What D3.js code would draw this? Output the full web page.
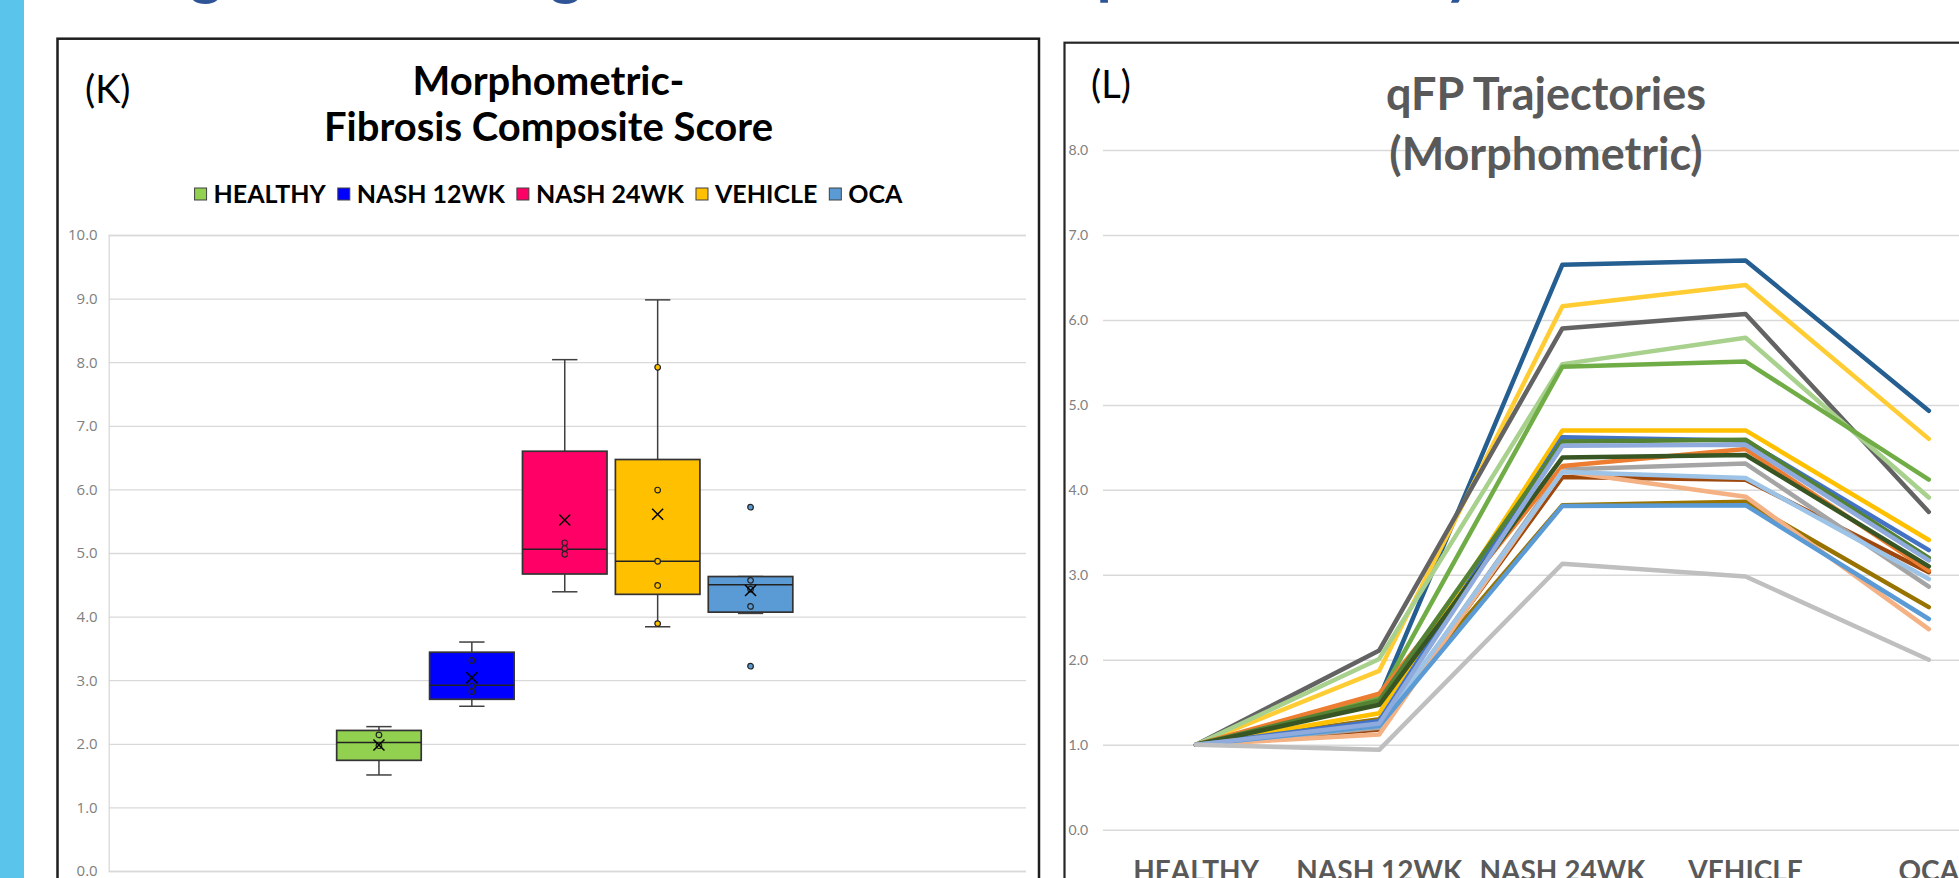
<!DOCTYPE html>
<html>
<head>
<meta charset="utf-8">
<script src="https://cdn.jsdelivr.net/npm/d3@7"></script>
<style>
  body { margin: 0; background: #fff; overflow: hidden; }
  svg { display: block; }
  text { font-family: Lato, "Open Sans", sans-serif; }
</style>
</head>
<body>
<svg id="fig" width="1959" height="878"></svg>
<script>
// ---- data: panel K (box plot) ----
const groups = ["HEALTHY", "NASH 12WK", "NASH 24WK", "VEHICLE", "OCA"];
const boxColors = ["#92D050", "#0000FF", "#FF0066", "#FFC000", "#5B9BD5"];
const whiskerLow  = [1.51, 2.59, 4.39, 3.84, 4.05];
const q1          = [1.74, 2.70, 4.67, 4.35, 4.07];
const median      = [2.02, 2.92, 5.06, 4.87, 4.50];
const q3          = [2.21, 3.44, 6.60, 6.47, 4.63];
const whiskerHigh = [2.27, 3.60, 8.04, 8.98, 4.63];
const means       = [1.98, 3.04, 5.52, 5.61, 4.41];
const innerPoints = [[2.14, 1.97], [3.31, 2.91, 2.82], [5.16, 5.07, 4.98], [7.92, 5.99, 4.87, 4.49, 3.89], [4.57, 4.43, 4.16]];
const outliers    = [[], [], [], [], [5.72, 3.22]];
const kTicks = [0, 1, 2, 3, 4, 5, 6, 7, 8, 9, 10];

// ---- data: panel L (trajectories) ----
const stages = ["HEALTHY", "NASH 12WK", "NASH 24WK", "VEHICLE", "OCA"];
const trajValues = [
  [1, 1.55, 6.65, 6.70, 4.93],
  [1, 1.87, 6.16, 6.41, 4.60],
  [1, 2.11, 5.90, 6.07, 3.74],
  [1, 2.01, 5.48, 5.79, 3.91],
  [1, 1.56, 5.45, 5.51, 4.12],
  [1, 1.18, 4.15, 4.12, 3.03],
  [1, 1.20, 4.24, 4.31, 2.86],
  [1, 1.60, 4.28, 4.48, 3.05],
  [1, 1.30, 3.82, 3.86, 2.62],
  [1, 1.12, 4.22, 3.92, 2.36],
  [1, 1.22, 4.21, 4.14, 2.95],
  [1, 1.37, 4.70, 4.70, 3.41],
  [1, 1.28, 4.62, 4.58, 3.29],
  [1, 1.52, 4.57, 4.59, 3.20],
  [1, 1.47, 4.38, 4.41, 3.10],
  [1, 1.22, 3.81, 3.82, 2.48],
  [1, 1.25, 4.52, 4.53, 3.17],
  [1, 0.94, 3.13, 2.98, 2.00]
];
const trajColors = ["#255E91", "#FFCD33", "#636363", "#A9D18E", "#70AD47", "#9E480E",
  "#A5A5A5", "#ED7D31", "#997300", "#F4B183", "#9DC3E6", "#FFC000", "#4472C4",
  "#548235", "#375623", "#5B9BD5", "#8FAADC", "#BFBFBF"];
const lTicks = [0, 1, 2, 3, 4, 5, 6, 7, 8];

const f1 = d3.format(".1f");
const svg = d3.select("#fig");

// slide background bits
svg.append("rect").attr("x", 0).attr("y", 0).attr("width", 24).attr("height", 878).attr("fill", "#5BC4EA");
// descenders of the slide heading, cut off by the top edge as in the slide
const headerGlyphs = [{t: "g", x: 206}, {t: "g", x: 566}, {t: "p", x: 1114}, {t: "y", x: 1460}];
svg.selectAll(".hdr").data(headerGlyphs).enter().append("text")
  .attr("x", d => d.x).attr("y", -7)
  .attr("text-anchor", "middle")
  .style("font-size", "62px").style("font-weight", 700).style("fill", "#2F5597")
  .text(d => d.t);

// =============== panel K ===============
const kp = {left: 108.7, right: 1026, top: 235, bottom: 871};
const gK = svg.append("g");
gK.append("rect").attr("x", 57.5).attr("y", 38.7).attr("width", 981.5).attr("height", 900)
  .attr("fill", "#fff").attr("stroke", "#1e1e1e").attr("stroke-width", 2.5);

const ky = d3.scaleLinear().domain([0, 10]).range([kp.bottom, kp.top]);
const kx = d3.scaleBand().domain(groups).range([332.5, 797]).paddingInner(0.09).paddingOuter(0.045);

const kAxis = gK.append("g").attr("transform", `translate(${kp.left},0)`)
  .call(d3.axisLeft(ky).tickValues(kTicks).tickFormat(f1).tickSize(-(kp.right - kp.left)).tickPadding(11));
kAxis.select(".domain").attr("stroke", "#d9d9d9").attr("stroke-width", 1.3);
kAxis.selectAll(".tick line").attr("stroke", "#d9d9d9").attr("stroke-width", 1.3);
kAxis.selectAll(".tick text").style("font-family", "'Open Sans'").style("font-size", "15px").style("fill", "#808080");

gK.append("text").attr("x", 85).attr("y", 103).style("font-size", "38px").style("fill", "#000").text("(K)");
gK.append("text").attr("x", 548.5).attr("y", 95).attr("text-anchor", "middle")
  .style("font-size", "40px").style("font-weight", 700).text("Morphometric-");
gK.append("text").attr("x", 548.5).attr("y", 141).attr("text-anchor", "middle")
  .style("font-size", "40px").style("font-weight", 700).text("Fibrosis Composite Score");

// legend
const leg = gK.append("g");
let lx0 = 0;
groups.forEach((g, i) => {
  const it = leg.append("g").attr("transform", `translate(${lx0},0)`);
  it.append("rect").attr("x", 0).attr("y", -15).attr("width", 12).attr("height", 12)
    .attr("fill", boxColors[i]).attr("stroke", "#404040").attr("stroke-width", 1);
  const t = it.append("text").attr("x", 19).attr("y", 0)
    .style("font-size", "25px").style("font-weight", 700).text(g);
  lx0 += 19 + t.node().getComputedTextLength() + 12;
});
leg.attr("transform", `translate(${548.5 - (lx0 - 12) / 2},203)`);

// boxes
const bw = kx.bandwidth();
const cap = bw * 0.3;
const boxes = gK.selectAll(".box").data(groups).enter().append("g")
  .attr("transform", d => `translate(${kx(d) + bw / 2},0)`);
boxes.append("line").attr("y1", (d, i) => ky(q3[i])).attr("y2", (d, i) => ky(whiskerHigh[i]))
  .attr("stroke", "#404040").attr("stroke-width", 1.5);
boxes.append("line").attr("y1", (d, i) => ky(q1[i])).attr("y2", (d, i) => ky(whiskerLow[i]))
  .attr("stroke", "#404040").attr("stroke-width", 1.5);
boxes.append("line").attr("x1", -cap / 2).attr("x2", cap / 2)
  .attr("y1", (d, i) => ky(whiskerHigh[i])).attr("y2", (d, i) => ky(whiskerHigh[i]))
  .attr("stroke", "#404040").attr("stroke-width", 1.5);
boxes.append("line").attr("x1", -cap / 2).attr("x2", cap / 2)
  .attr("y1", (d, i) => ky(whiskerLow[i])).attr("y2", (d, i) => ky(whiskerLow[i]))
  .attr("stroke", "#404040").attr("stroke-width", 1.5);
boxes.append("rect").attr("x", -bw / 2).attr("width", bw)
  .attr("y", (d, i) => ky(q3[i])).attr("height", (d, i) => ky(q1[i]) - ky(q3[i]))
  .attr("fill", (d, i) => boxColors[i]).attr("stroke", "#333").attr("stroke-width", 1.7);
boxes.append("line").attr("x1", -bw / 2).attr("x2", bw / 2)
  .attr("y1", (d, i) => ky(median[i])).attr("y2", (d, i) => ky(median[i]))
  .attr("stroke", "#222").attr("stroke-width", 1.6);
boxes.each(function (d, i) {
  const b = d3.select(this);
  b.selectAll(".pt").data(innerPoints[i].concat(outliers[i])).enter().append("circle")
    .attr("cy", v => ky(v)).attr("r", 2.8)
    .attr("fill", boxColors[i]).attr("stroke", "#222").attr("stroke-width", 1.2);
  const m = ky(means[i]), s = 5.5;
  b.append("path").attr("d", `M${-s},${m - s}L${s},${m + s}M${-s},${m + s}L${s},${m - s}`)
    .attr("stroke", "#000").attr("stroke-width", 1.5);
});

// =============== panel L ===============
const lp = {left: 1104.4, right: 2020.4, top: 150, bottom: 829.7};
const gL = svg.append("g");
gL.append("rect").attr("x", 1064.5).attr("y", 42.7).attr("width", 1000).attr("height", 900)
  .attr("fill", "#fff").attr("stroke", "#262626").attr("stroke-width", 2.2);

const ly = d3.scaleLinear().domain([0, 8]).range([lp.bottom, lp.top]);
const lx = d3.scaleBand().domain(stages).range([lp.left, lp.right]);

const lAxis = gL.append("g").attr("transform", `translate(${lp.left - 1.4},0)`)
  .call(d3.axisLeft(ly).tickValues(lTicks).tickFormat(f1).tickSize(-(lp.right - lp.left)));
lAxis.select(".domain").remove();
lAxis.selectAll(".tick line").attr("stroke", "#d9d9d9").attr("stroke-width", 1.5);
lAxis.selectAll(".tick text").attr("x", -34.4).attr("text-anchor", "start")
  .style("font-size", "14px").style("fill", "#808080");

gL.selectAll(".xl").data(stages).enter().append("text")
  .attr("x", d => lx(d) + lx.bandwidth() / 2).attr("y", 881)
  .attr("text-anchor", "middle")
  .style("font-size", "28px").style("font-weight", 700).style("fill", "#595959")
  .text(d => d);

const line = d3.line()
  .x((d, i) => lx(stages[i]) + lx.bandwidth() / 2)
  .y(d => ly(d));
gL.selectAll(".traj").data(trajValues).enter().append("path")
  .attr("d", line).attr("fill", "none")
  .attr("stroke", (d, i) => trajColors[i]).attr("stroke-width", 4.5)
  .attr("stroke-linejoin", "round").attr("stroke-linecap", "round");

gL.append("text").attr("x", 1091).attr("y", 98).style("font-size", "38px").style("fill", "#000").text("(L)");
gL.append("text").attr("x", 1546).attr("y", 110).attr("text-anchor", "middle")
  .style("font-size", "45px").style("font-weight", 700).style("fill", "#595959").text("qFP Trajectories");
gL.append("text").attr("x", 1546).attr("y", 170).attr("text-anchor", "middle")
  .style("font-size", "45px").style("font-weight", 700).style("fill", "#595959").text("(Morphometric)");
</script>
</body>
</html>
